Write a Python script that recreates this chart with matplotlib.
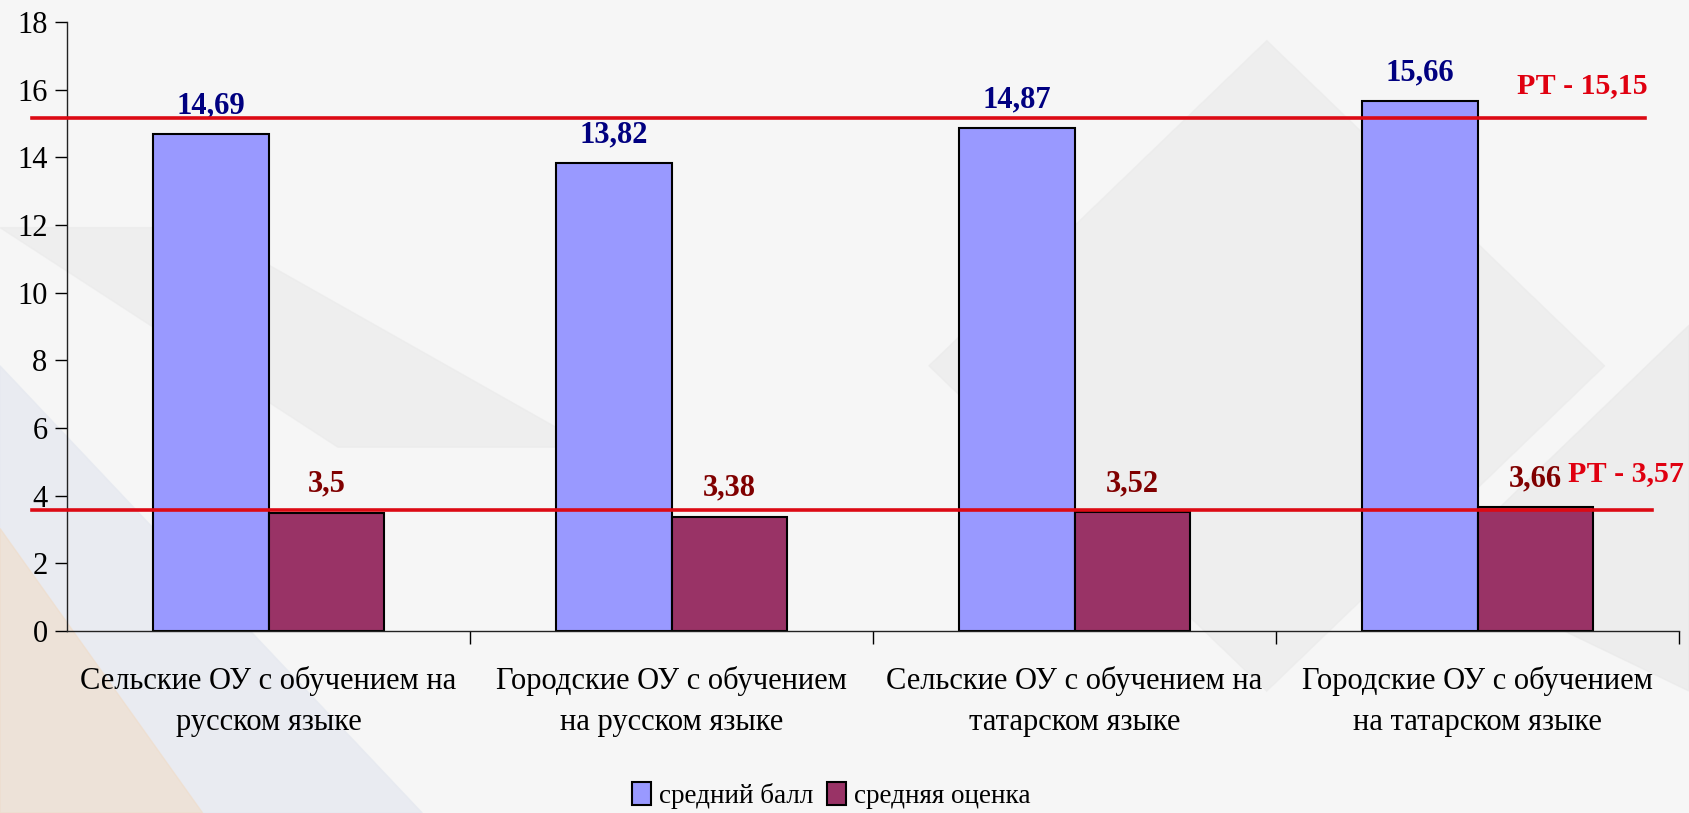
import matplotlib
matplotlib.use("Agg")
import matplotlib.pyplot as plt
import numpy as np

# data
categories = ["Сельские ОУ с обучением на\nрусском языке",
              "Городские ОУ с обучением\nна русском языке",
              "Сельские ОУ с обучением на\nтатарском языке",
              "Городские ОУ с обучением\nна татарском языке"]
avg_score = [14.69, 13.82, 14.87, 15.66]
avg_grade = [3.5, 3.38, 3.52, 3.66]
score_labels = ["14,69", "13,82", "14,87", "15,66"]
grade_labels = ["3,5", "3,38", "3,52", "3,66"]
rt_score = 15.15
rt_grade = 3.57
series_names = ["средний балл", "средняя оценка"]

plt.rcParams['font.family'] = ['Liberation Serif', 'DejaVu Serif']

fig = plt.figure(figsize=(16.89, 8.13), dpi=100, facecolor='#F6F6F6')

# faint background shapes like the slide template
bg = fig.add_axes([0, 0, 1, 1], zorder=-10)
bg.set_xlim(0, 1)
bg.set_ylim(0, 1)
bg.axis('off')
bg.fill([0, 0.25, 0.0], [0.0, 0.0, 0.55], color='#E6E9F0', alpha=0.8)
bg.fill([0, 0.12, 0.0], [0.0, 0.0, 0.35], color='#F0DCC8', alpha=0.6)
bg.fill([0.0, 0.2, 0.35, 0.12], [0.72, 0.45, 0.45, 0.72], color='#EAEAEA', alpha=0.6)
bg.fill([0.55, 0.75, 0.95, 0.75], [0.55, 0.95, 0.55, 0.15], color='#EBEBEB', alpha=0.7)
bg.fill([0.85, 1.0, 1.0], [0.3, 0.15, 0.6], color='#E8E8E8', alpha=0.6)

ax = fig.add_axes([0.0397, 0.2239, 0.9544, 0.749])
ax.set_facecolor('none')

x = np.arange(len(categories))
w = 0.287
b1 = ax.bar(x - w / 2, avg_score, w, color='#9999FF', edgecolor='black', linewidth=1.5,
            label=series_names[0])
b2 = ax.bar(x + w / 2, avg_grade, w, color='#993366', edgecolor='black', linewidth=1.5,
            label=series_names[1])

for xi, v, t in zip(x - w / 2, avg_score, score_labels):
    ax.annotate(t, (xi, v), xytext=(0, 15), textcoords='offset points', ha='center',
                va='baseline', fontsize=22, fontweight='bold', color='#000080')
for xi, v, t in zip(x + w / 2, avg_grade, grade_labels):
    ax.annotate(t, (xi, v), xytext=(0, 15), textcoords='offset points', ha='center',
                va='baseline', fontsize=22, fontweight='bold', color='#800000')

# republic averages
ax.axhline(rt_score, xmin=-0.022, xmax=0.979, color='#DC0A14', linewidth=2.6, clip_on=False, zorder=5)
ax.axhline(rt_grade, xmin=-0.022, xmax=0.983, color='#DC0A14', linewidth=2.6, clip_on=False, zorder=5)
ax.annotate("РТ - 15,15", (0.8995, rt_score), xycoords=('axes fraction', 'data'),
            xytext=(0, 18), textcoords='offset points', ha='left', va='baseline',
            fontsize=21.5, fontweight='bold', color='#E00010')
ax.annotate("РТ - 3,57", (0.931, rt_grade), xycoords=('axes fraction', 'data'),
            xytext=(0, 21), textcoords='offset points', ha='left', va='baseline',
            fontsize=21.5, fontweight='bold', color='#E00010')

ax.set_xlim(-0.5, 3.5)
ax.set_ylim(0, 18)
ax.set_yticks(range(0, 19, 2))
ax.set_xticks(x)
ax.set_xticklabels(categories, fontsize=22)
for lbl in ax.get_xticklabels():
    lbl.set_linespacing(1.55)
ax.tick_params(axis='x', which='major', length=0, pad=25)
ax.set_xticks(np.arange(0.5, 4, 1), minor=True)
ax.tick_params(axis='x', which='minor', length=9, width=1, direction='out')
ax.tick_params(axis='y', labelsize=22, length=9, width=1, direction='out', pad=5)
for s in ['top', 'right']:
    ax.spines[s].set_visible(False)
for s in ['left', 'bottom']:
    ax.spines[s].set_linewidth(1)
    ax.spines[s].set_color('#222222')

fig.legend(handles=[b1, b2], loc='lower center', bbox_to_anchor=(0.492, -0.025), ncol=2,
           frameon=False, fontsize=19.5, handlelength=0.7, handleheight=0.9,
           handletextpad=0.3, columnspacing=0.5)

fig.savefig('out.png', dpi=100, facecolor=fig.get_facecolor())
